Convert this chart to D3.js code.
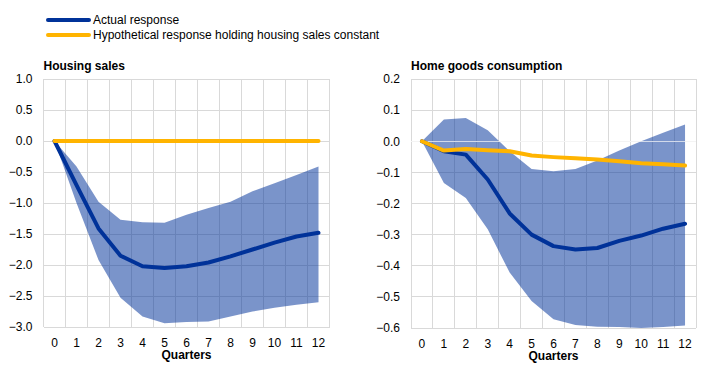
<!DOCTYPE html>
<html><head><meta charset="utf-8">
<script src="https://cdn.jsdelivr.net/npm/d3@7"></script>
<style>body{margin:0;background:#fff;} svg{display:block;font-family:"Liberation Sans",Arial,sans-serif;}</style>
</head><body><svg id="c" width="727" height="369"></svg>
<script>
const quarters = [0,1,2,3,4,5,6,7,8,9,10,11,12];
const salesActual = [0,-0.71,-1.41,-1.85,-2.02,-2.05,-2.02,-1.96,-1.86,-1.75,-1.64,-1.54,-1.48];
const salesHypo   = [0,0,0,0,0,0,0,0,0,0,0,0,0];
const salesUpper  = [0,-0.41,-0.98,-1.27,-1.31,-1.32,-1.19,-1.08,-0.98,-0.81,-0.68,-0.55,-0.41];
const salesLower  = [0,-1.0,-1.92,-2.53,-2.83,-2.94,-2.92,-2.91,-2.83,-2.75,-2.69,-2.64,-2.60];
const salesTicks  = [1.0,0.5,0.0,-0.5,-1.0,-1.5,-2.0,-2.5,-3.0];

const homeActual = [0,-0.032,-0.043,-0.123,-0.232,-0.300,-0.337,-0.348,-0.343,-0.320,-0.303,-0.281,-0.265];
const homeHypo   = [0,-0.030,-0.025,-0.029,-0.032,-0.046,-0.051,-0.055,-0.059,-0.064,-0.071,-0.074,-0.078];
const homeUpper  = [0,0.070,0.075,0.035,-0.032,-0.089,-0.096,-0.089,-0.062,-0.030,0.0,0.027,0.054];
const homeLower  = [0,-0.134,-0.182,-0.283,-0.422,-0.513,-0.572,-0.590,-0.596,-0.597,-0.600,-0.597,-0.592];
const homeTicks  = [0.2,0.1,0.0,-0.1,-0.2,-0.3,-0.4,-0.5,-0.6];

const legendLabels = ["Actual response","Hypothetical response holding housing sales constant"];
const titles = ["Housing sales","Home goods consumption"];
const xTitle = "Quarters";

const BLUE="#003299", YELLOW="#FFB400", GRID="#d9d9d9";
const svg = d3.select("#c");

// legend
const lg = svg.append("g");
[[BLUE,20],[YELLOW,35]].forEach(([c,y],i)=>{
  lg.append("line").attr("x1",48).attr("x2",89).attr("y1",y).attr("y2",y)
    .attr("stroke",c).attr("stroke-width",4).attr("stroke-linecap","round");
  lg.append("text").attr("x",93).attr("y",y+4).attr("font-size",12).attr("fill","#000").text(legendLabels[i]);
});

function panel(opt){
  const {x0,x1,y0,y1,domain,ticks,fmt,actual,hypo,upper,lower,title,zeroWhite} = opt;
  const g = svg.append("g");
  const x = d3.scaleBand().domain(quarters).range([x0,x1]);
  const y = d3.scaleLinear().domain(domain).range([y1,y0]);
  const cx = q => x(q)+x.bandwidth()/2;
  // grid
  const bounds = quarters.map(q=>x(q)).concat([x1]);
  g.selectAll(".vg").data(bounds).join("line")
    .attr("x1",d=>d).attr("x2",d=>d).attr("y1",y0).attr("y2",y1)
    .attr("stroke",GRID).attr("stroke-width",1).attr("shape-rendering","crispEdges");
  g.selectAll(".hg").data(ticks).join("line")
    .attr("x1",x0).attr("x2",x1).attr("y1",d=>y(d)).attr("y2",d=>y(d))
    .attr("stroke",GRID).attr("stroke-width",1).attr("shape-rendering","crispEdges");
  // band
  const area = d3.area().x((d,i)=>cx(quarters[i])).y0((d,i)=>y(lower[i])).y1((d,i)=>y(upper[i]));
  g.append("path").datum(upper).attr("d",area).attr("fill",BLUE).attr("fill-opacity",0.52);
  if(zeroWhite){
    g.append("line").attr("x1",x0).attr("x2",x1).attr("y1",y(0)).attr("y2",y(0))
      .attr("stroke","#fff").attr("stroke-opacity",0.7).attr("stroke-width",1).attr("shape-rendering","crispEdges");
  }
  const line = d3.line().x((d,i)=>cx(quarters[i])).y(d=>y(d));
  g.append("path").datum(actual).attr("d",line).attr("fill","none").attr("stroke",BLUE).attr("stroke-width",4).attr("stroke-linejoin","round").attr("stroke-linecap","round");
  g.append("path").datum(hypo).attr("d",line).attr("fill","none").attr("stroke",YELLOW).attr("stroke-width",4).attr("stroke-linejoin","round").attr("stroke-linecap","round");
  // y axis labels
  const ya = g.append("g").attr("transform",`translate(${x0-11},0)`)
    .call(d3.axisLeft(y).tickValues(ticks).tickFormat(fmt).tickSize(0).tickPadding(0));
  ya.select(".domain").remove();
  ya.selectAll("text").attr("font-size",12).attr("fill","#000").attr("font-family","Liberation Sans, Arial, sans-serif");
  // x axis labels
  const xa = g.append("g").attr("transform",`translate(0,${y1+8})`)
    .call(d3.axisBottom(x).tickSize(0).tickPadding(3));
  xa.select(".domain").remove();
  xa.selectAll("text").attr("font-size",12).attr("fill","#000").attr("font-family","Liberation Sans, Arial, sans-serif");
  g.append("text").attr("x",(x0+x1)/2).attr("y",y1+32).attr("text-anchor","middle")
    .attr("font-size",12).attr("font-weight","bold").text(xTitle);
  g.append("text").attr("x",x0).attr("y",y0-9).attr("font-size",12).attr("font-weight","bold").text(title);
}

panel({x0:43.5,x1:329.5,y0:79,y1:327,domain:[-3,1],ticks:salesTicks,fmt:d3.format(".1f"),
  actual:salesActual,hypo:salesHypo,upper:salesUpper,lower:salesLower,title:titles[0],zeroWhite:false});
panel({x0:411,x1:696,y0:79,y1:328,domain:[-0.6,0.2],ticks:homeTicks,fmt:d3.format(".1f"),
  actual:homeActual,hypo:homeHypo,upper:homeUpper,lower:homeLower,title:titles[1],zeroWhite:true});
</script></body></html>
